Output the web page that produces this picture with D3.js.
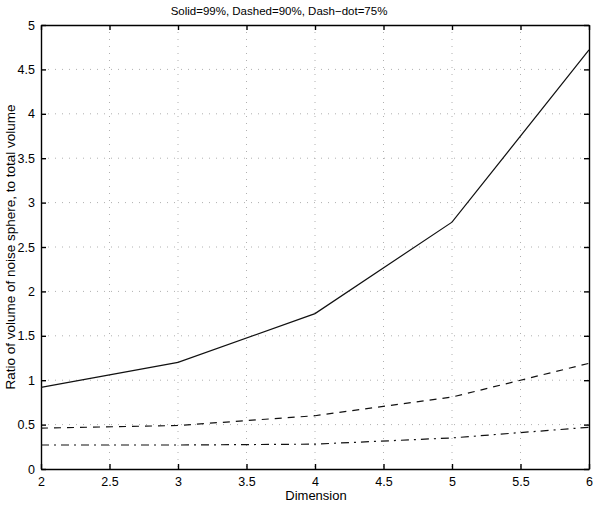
<!DOCTYPE html>
<html>
<head>
<meta charset="utf-8">
<script src="https://cdn.jsdelivr.net/npm/d3@7"></script>
<style>
  body { margin: 0; background: #fff; }
  svg { display: block; font-family: "Liberation Sans", Arial, Helvetica, sans-serif; }
</style>
</head>
<body>
<svg id="chart" width="593" height="505"></svg>
<script>
const dimensions = [2, 3, 4, 5, 6];
const solid99 = [0.92, 1.2, 1.75, 2.78, 4.72];
const dashed90 = [0.46, 0.49, 0.60, 0.81, 1.19];
const dashdot75 = [0.27, 0.27, 0.28, 0.35, 0.47];
const xTicks = [2, 2.5, 3, 3.5, 4, 4.5, 5, 5.5, 6];
const yTicks = [0, 0.5, 1, 1.5, 2, 2.5, 3, 3.5, 4, 4.5, 5];
const titleText = "Solid=99%, Dashed=90%, Dash\u2212dot=75%";
const xLabel = "Dimension";
const yLabel = "Ratio of volume of noise sphere, to total volume";

const svg = d3.select("#chart");
const m = { left: 41, right: 589, top: 25, bottom: 469 };
const x = d3.scaleLinear().domain([2, 6]).range([m.left, m.right]);
const y = d3.scaleLinear().domain([0, 5]).range([m.bottom, m.top]);

// grid
const grid = svg.append("g").attr("stroke", "#b0b0b0").attr("stroke-width", 1).attr("stroke-dasharray", "1,6");
grid.selectAll(".gx").data(xTicks.slice(1, -1)).join("line")
  .attr("x1", d => x(d)).attr("x2", d => x(d)).attr("y1", m.top).attr("y2", m.bottom);
grid.selectAll(".gy").data(yTicks.slice(1, -1)).join("line")
  .attr("y1", d => y(d)).attr("y2", d => y(d)).attr("x1", m.left).attr("x2", m.right);

// axes (inward ticks, box)
const fmt = d => String(d);
svg.append("g").attr("transform", `translate(0,${m.bottom})`)
  .call(d3.axisBottom(x).tickValues(xTicks).tickFormat(fmt).tickSizeInner(-5).tickSizeOuter(0).tickPadding(8));
svg.append("g").attr("transform", `translate(0,${m.top})`)
  .call(d3.axisTop(x).tickValues(xTicks).tickFormat("").tickSizeInner(-5).tickSizeOuter(0));
svg.append("g").attr("transform", `translate(${m.left},0)`)
  .call(d3.axisLeft(y).tickValues(yTicks).tickFormat(fmt).tickSizeInner(-5).tickSizeOuter(0).tickPadding(6));
svg.append("g").attr("transform", `translate(${m.right},0)`)
  .call(d3.axisRight(y).tickValues(yTicks).tickFormat("").tickSizeInner(-5).tickSizeOuter(0));
svg.selectAll(".domain, .tick line").attr("stroke", "#000").attr("stroke-width", 1.4);
svg.selectAll(".tick text").attr("font-size", 12.5).attr("fill", "#000")
  .attr("font-family", "'Liberation Sans', Arial, sans-serif");

// lines
const line = d3.line().x((d, i) => x(dimensions[i])).y(d => y(d));
const series = [
  { v: solid99, dash: null },
  { v: dashed90, dash: "7,6" },
  { v: dashdot75, dash: "8,5,2,5" }
];
series.forEach(s => {
  svg.append("path").datum(s.v).attr("d", line)
    .attr("fill", "none").attr("stroke", "#111").attr("stroke-width", 1.2)
    .attr("stroke-dasharray", s.dash);
});

// texts
svg.append("text").attr("x", 279).attr("y", 15).attr("text-anchor", "middle")
  .attr("font-size", 11.5).text(titleText);
svg.append("text").attr("x", 316).attr("y", 500).attr("text-anchor", "middle")
  .attr("font-size", 13).text(xLabel);
svg.append("text").attr("transform", `translate(15,${(m.top + m.bottom) / 2}) rotate(-90)`)
  .attr("text-anchor", "middle").attr("font-size", 13.5).text(yLabel);
</script>
</body>
</html>
